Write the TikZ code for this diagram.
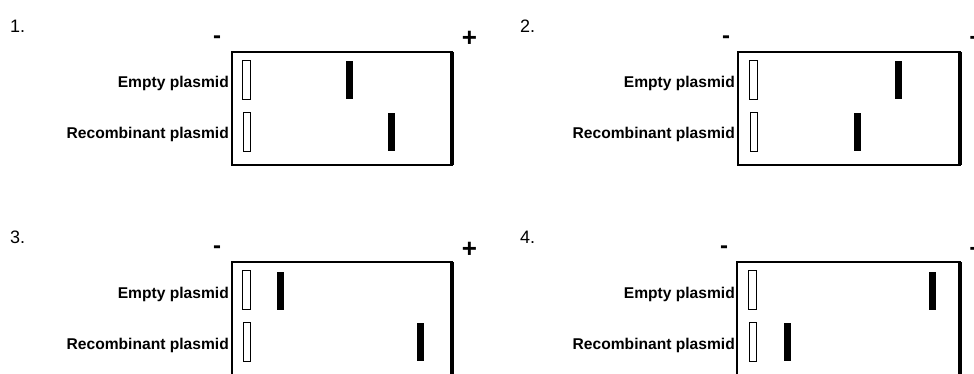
\documentclass[tikz,border=0pt]{standalone}
\usepackage{fontspec}
\setmainfont{Liberation Sans}
\begin{document}
\begin{tikzpicture}[x=1pt,y=-1pt,
  gelbox/.style={line width=2.6pt, line join=miter},
  anodeedge/.style={line width=3.8pt},
  well/.style={rectangle, draw, line width=0.9pt, minimum width=7.5pt, minimum height=39pt, inner sep=0pt},
  band/.style={rectangle, fill=black, draw=none, minimum width=7pt, minimum height=38pt, inner sep=0pt},
  lane/.style={font=\bfseries\fontsize{15.6}{18}\selectfont, anchor=base east, inner sep=0pt},
  num/.style={font=\fontsize{18}{20}\selectfont, anchor=base west, inner sep=0pt},
  minus/.style={font=\bfseries\fontsize{24}{24}\selectfont, anchor=base, inner sep=0pt},
  plus/.style={font=\bfseries\fontsize{26}{26}\selectfont, anchor=base, inner sep=0pt}]
\useasboundingbox (0,0) rectangle (974,374);
\clip (0,0) rectangle (974,374);

% ---------- Panel 1 ----------
\begin{scope}
  \node[num] (n1) at (10,33) {1.};
  \node[minus] (m1) at (217,43.5) {-};
  \node[plus] (p1) at (469.5,47) {+};
  \coordinate (a1) at (232,52); \coordinate (b1) at (452,165);
  \draw[gelbox] (a1) rectangle (b1);
  \draw[anodeedge] (a1 -| b1) -- (b1);
  \node[lane] (e1) at (229,88) {Empty plasmid};
  \node[lane] (r1) at (229,139) {Recombinant plasmid};
  \node[well] (we1) at (246.5,80) {};
  \node[well] (wr1) at (247,131.5) {};
  \node[band] (be1) at (349.5,80.5) {};
  \node[band] (br1) at (391,132) {};
\end{scope}

% ---------- Panel 2 ----------
\begin{scope}[shift={(506,0)}]
  \node[num] (n2) at (14,33) {2.};
  \node[minus] (m2) at (220,43.5) {-};
  \node[plus] (p2) at (471,47) {+};
  \coordinate (a2) at (232,52); \coordinate (b2) at (454,165);
  \draw[gelbox] (a2) rectangle (b2);
  \draw[anodeedge] (a2 -| b2) -- (b2);
  \node[lane] (e2) at (229,88) {Empty plasmid};
  \node[lane] (r2) at (229,139) {Recombinant plasmid};
  \node[well] (we2) at (247.5,80) {};
  \node[well] (wr2) at (248,131.5) {};
  \node[band] (be2) at (392.5,80.5) {};
  \node[band] (br2) at (351.5,132) {};
\end{scope}

% ---------- Panel 3 ----------
\begin{scope}[shift={(0,210)}]
  \node[num] (n3) at (10,33) {3.};
  \node[minus] (m3) at (217,43.5) {-};
  \node[plus] (p3) at (469.5,47) {+};
  \coordinate (a3) at (232,52); \coordinate (b3) at (452,200);
  \draw[gelbox] (a3) rectangle (b3);
  \draw[anodeedge] (a3 -| b3) -- (b3);
  \node[lane] (e3) at (229,88) {Empty plasmid};
  \node[lane] (r3) at (229,139) {Recombinant plasmid};
  \node[well] (we3) at (246.5,80) {};
  \node[well] (wr3) at (247,131.5) {};
  \node[band] (be3) at (280.5,80.5) {};
  \node[band] (br3) at (420,132) {};
\end{scope}

% ---------- Panel 4 ----------
\begin{scope}[shift={(506,210)}]
  \node[num] (n4) at (14,33) {4.};
  \node[minus] (m4) at (218,43.5) {-};
  \node[plus] (p4) at (471,47) {+};
  \coordinate (a4) at (231,52); \coordinate (b4) at (454,200);
  \draw[gelbox] (a4) rectangle (b4);
  \draw[anodeedge] (a4 -| b4) -- (b4);
  \node[lane] (e4) at (229,88) {Empty plasmid};
  \node[lane] (r4) at (229,139) {Recombinant plasmid};
  \node[well] (we4) at (246.5,80) {};
  \node[well] (wr4) at (247,131.5) {};
  \node[band] (be4) at (426,80.5) {};
  \node[band] (br4) at (281.5,132) {};
\end{scope}
\end{tikzpicture}
\end{document}
